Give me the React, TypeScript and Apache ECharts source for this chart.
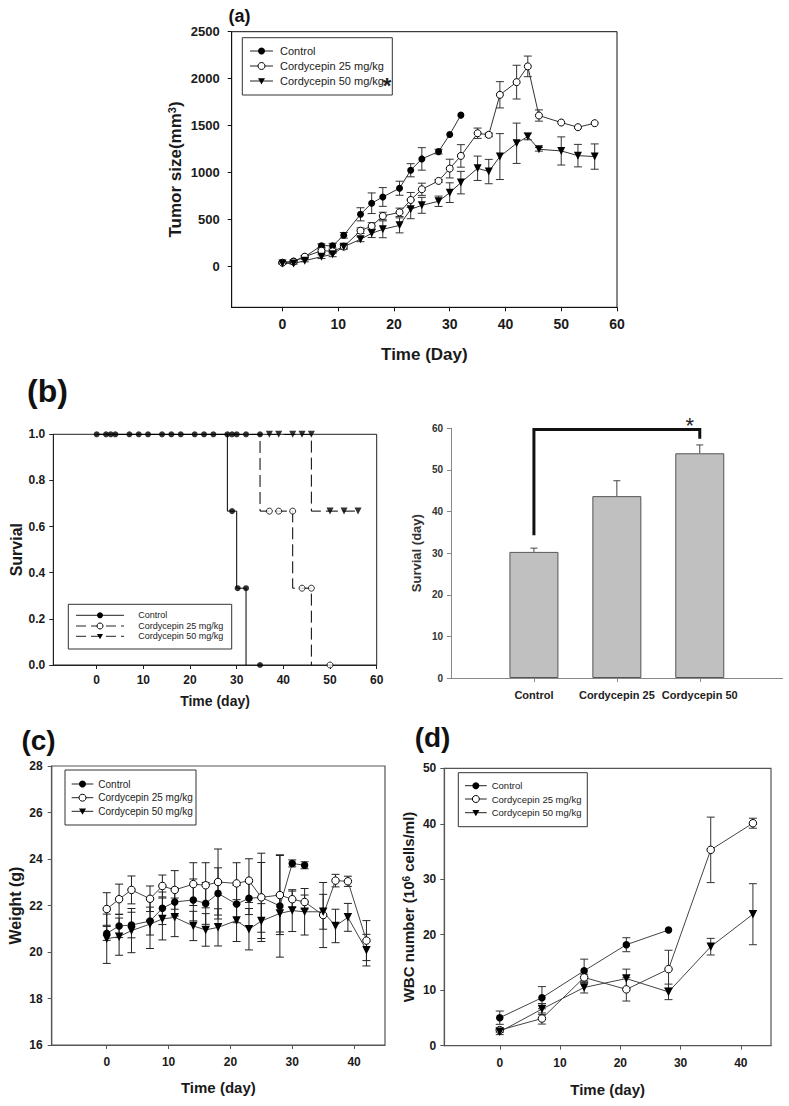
import React, { useEffect, useRef } from 'react';
import * as echarts from 'echarts';

const FONT = '"Liberation Sans", Arial, Helvetica, sans-serif';

// ---------- (a) tumor size ----------
const tumorDays = [0, 2, 4, 7, 9, 11, 14, 16, 18, 21, 23, 25, 28, 30, 32, 35, 37, 39, 42, 44, 46, 50, 53, 56];
const tumorControl = [36, 53, 100, 217, 217, 328, 552, 670, 737, 830, 1022, 1143, 1221, 1403, 1610];
const tumorControlErr = [10, 10, 15, 20, 25, 30, 70, 110, 100, 75, 70, 120, 25, 0, 0];
const tumor25 = [36, 46, 100, 164, 157, 207, 377, 427, 534, 573, 705, 819, 908, 1040, 1175, 1417, 1400, 1827, 1962, 2130, 1606, 1531, 1481, 1524];
const tumor25Err = [8, 8, 12, 20, 20, 25, 30, 35, 40, 45, 80, 65, 15, 100, 120, 55, 20, 140, 180, 110, 60, 0, 0, 0];
const tumor50 = [28, 28, 57, 100, 125, 207, 285, 349, 392, 434, 605, 648, 691, 783, 890, 1043, 1008, 1168, 1310, 1382, 1246, 1228, 1178, 1168];
const tumor50Err = [8, 8, 12, 20, 25, 25, 25, 45, 90, 80, 100, 85, 55, 105, 120, 130, 130, 245, 215, 35, 20, 150, 120, 135];
const xTicksA = [0, 10, 20, 30, 40, 50, 60];
const yTicksA = [0, 500, 1000, 1500, 2000, 2500];

// ---------- (b) survival curves ----------
const kmControlDays = [0, 28, 30, 32];
const kmControl = [1, 0.667, 0.333, 0];
const km25Days = [0, 35, 42, 46];
const km25 = [1, 0.667, 0.333, 0];
const km50Days = [0, 46, 56];
const km50 = [1, 0.667, 0.667];
const markControlDays = [0, 2, 3, 4, 7, 9, 11, 14, 16, 18, 21, 23, 25, 28, 29, 30, 32, 35, 29, 30.2, 32, 35];
const markControl = [1, 1, 1, 1, 1, 1, 1, 1, 1, 1, 1, 1, 1, 1, 1, 1, 1, 1, 0.667, 0.333, 0.333, 0];
const mark25Days = [37, 39, 42, 44, 46, 50];
const mark25 = [0.667, 0.667, 0.667, 0.333, 0.333, 0];
const mark50Days = [37, 39, 42, 44, 46, 50, 53, 56];
const mark50 = [1, 1, 1, 1, 1, 0.667, 0.667, 0.667];
const xTicksB = [0, 10, 20, 30, 40, 50, 60];
const yTicksB = [0, 0.2, 0.4, 0.6, 0.8, 1.0];

// ---------- (b) survival bars ----------
const barCategories = ['Control', 'Cordycepin 25', 'Cordycepin 50'];
const survivalMean = [30.3, 43.7, 54.0];
const survivalErr = [0.9, 3.7, 2.0];
const bracketLevels = [34.3, 59.7, 57.5]; // left leg bottom, top, right leg bottom

// ---------- (c) weight ----------
const weightDays = [0, 2, 4, 7, 9, 11, 14, 16, 18, 21, 23, 25, 28, 30, 32, 35, 37, 39, 42];
const weightControl = [20.8, 21.12, 21.16, 21.33, 21.88, 22.15, 22.24, 22.09, 22.52, 22.06, 22.31, 22.35, 21.98, 23.81, 23.73];
const weightControlErr = [0.3, 0.5, 0.55, 0.6, 0.7, 0.6, 0.9, 0.9, 1.1, 0.8, 0.7, 1.9, 2.2, 0.15, 0.15];
const weight25 = [21.85, 22.27, 22.67, 22.29, 22.84, 22.67, 22.92, 22.87, 23.01, 22.95, 23.07, 22.35, 22.45, 22.27, 22.15, 21.59, 23.07, 23.04, 20.49];
const weight25Err = [0.7, 0.65, 0.6, 0.55, 0.47, 0.83, 0.92, 0.97, 1.42, 0.89, 0.94, 1.5, 1.7, 0.35, 0.3, 1.4, 0.27, 0.22, 0.86];
const weight50 = [20.57, 20.66, 20.92, 21.2, 21.42, 21.49, 21.12, 20.95, 21.06, 21.35, 20.98, 21.33, 21.66, 21.78, 21.73, 21.73, 21.12, 21.49, 20.08];
const weight50Err = [1.06, 0.8, 0.95, 1.05, 0.9, 0.83, 0.63, 0.7, 0.8, 0.9, 0.89, 0.75, 0.8, 0.9, 1.0, 0.75, 0.72, 0.6, 0.68];
const xTicksC = [0, 10, 20, 30, 40];
const yTicksC = [16, 18, 20, 22, 24, 26, 28];

// ---------- (d) WBC ----------
const wbcDays = [0, 7, 14, 21, 28, 35, 42];
const wbcControl = [5.05, 8.65, 13.5, 18.2, 20.85];
const wbcControlErr = [1.2, 2.0, 2.1, 1.26, 0];
const wbc25 = [2.8, 4.9, 12.3, 10.15, 13.8, 35.3, 40.1];
const wbc25Err = [0.4, 1.0, 0.6, 2.1, 3.4, 5.9, 0.9];
const wbc50 = [2.5, 6.6, 10.5, 12.1, 9.7, 17.85, 23.7];
const wbc50Err = [0.5, 1.0, 1.0, 1.7, 1.4, 1.5, 5.5];
const xTicksD = [0, 10, 20, 30, 40];
const yTicksD = [0, 10, 20, 30, 40, 50];

const legendNames = ['Control', 'Cordycepin 25 mg/kg', 'Cordycepin 50 mg/kg'];

type Kind = 'filled' | 'open' | 'tri';

const plain = (v: number) => String(v);

function lineSeries(gi: number, name: string, days: number[], vals: number[], kind: Kind, size: number, lineColor = '#333') {
  return {
    type: 'line',
    name,
    xAxisIndex: gi,
    yAxisIndex: gi,
    z: 3,
    data: vals.map((v, i) => [days[i], v]),
    symbol: kind === 'tri' ? 'triangle' : 'circle',
    symbolRotate: kind === 'tri' ? 180 : 0,
    symbolSize: kind === 'tri' ? size + 1 : size,
    showAllSymbol: true,
    lineStyle: { color: lineColor, width: 1 },
    itemStyle: kind === 'open'
      ? { color: '#fff', borderColor: '#000', borderWidth: 1 }
      : { color: '#000', borderColor: '#000', borderWidth: 0 },
    emphasis: { disabled: true },
    silent: true,
  };
}

function scatterSeries(gi: number, name: string, days: number[], vals: number[], kind: Kind, size: number) {
  return {
    type: 'scatter',
    name,
    xAxisIndex: gi,
    yAxisIndex: gi,
    z: 4,
    data: vals.map((v, i) => [days[i], v]),
    symbol: kind === 'tri' ? 'triangle' : 'circle',
    symbolRotate: kind === 'tri' ? 180 : 0,
    symbolSize: kind === 'tri' ? size + 1 : size,
    itemStyle: kind === 'open'
      ? { color: '#fff', borderColor: '#000', borderWidth: 1 }
      : { color: '#000', borderColor: '#000', borderWidth: 0 },
    emphasis: { disabled: true },
    silent: true,
  };
}

function stepSeries(gi: number, name: string, days: number[], vals: number[], dash: any) {
  return {
    type: 'line',
    name,
    xAxisIndex: gi,
    yAxisIndex: gi,
    z: 2,
    step: 'end',
    showSymbol: false,
    data: vals.map((v, i) => [days[i], v]),
    lineStyle: { color: '#000', width: 1, type: dash },
    emphasis: { disabled: true },
    silent: true,
  };
}

function errSeries(gi: number, xs: any[], vals: number[], errs: number[], color: string, cap: number, upOnly = false) {
  return {
    type: 'custom',
    xAxisIndex: gi,
    yAxisIndex: gi,
    z: 1,
    silent: true,
    data: vals.map((v, i) => [xs[i], v, errs[i]]),
    encode: { x: 0, y: 1 },
    renderItem: (_p: any, api: any) => {
      const x = api.value(0);
      const y = api.value(1);
      const e = api.value(2);
      if (!e) return null;
      const top = api.coord([x, y + e]);
      const bot = api.coord([x, upOnly ? y : y - e]);
      const st = { stroke: color, lineWidth: 1 };
      const children: any[] = [
        { type: 'line', shape: { x1: top[0], y1: top[1], x2: bot[0], y2: bot[1] }, style: st },
        { type: 'line', shape: { x1: top[0] - cap, y1: top[1], x2: top[0] + cap, y2: top[1] }, style: st },
      ];
      if (!upOnly) {
        children.push({ type: 'line', shape: { x1: bot[0] - cap, y1: bot[1], x2: bot[0] + cap, y2: bot[1] }, style: st });
      }
      return { type: 'group', children };
    },
  };
}

function bracketSeries(gi: number) {
  return {
    type: 'custom',
    xAxisIndex: gi,
    yAxisIndex: gi,
    z: 5,
    silent: true,
    clip: false,
    data: [[barCategories[0], bracketLevels[0], barCategories[2], bracketLevels[2], bracketLevels[1]]],
    encode: { x: [0, 2], y: [1, 3, 4] },
    renderItem: (_p: any, api: any) => {
      const a = api.coord([api.value(0), api.value(1)]);
      const b = api.coord([api.value(0), api.value(4)]);
      const c = api.coord([api.value(2), api.value(4)]);
      const d = api.coord([api.value(2), api.value(3)]);
      return {
        type: 'group',
        children: [
          {
            type: 'polyline',
            shape: { points: [a, b, c, d] },
            style: { stroke: '#111', lineWidth: 3, fill: 'none', lineJoin: 'miter' },
          },
          {
            type: 'text',
            x: c[0] - 10,
            y: c[1] - 4,
            style: { text: '*', fontSize: 22, fontFamily: FONT, fill: '#222', align: 'center', verticalAlign: 'middle' },
          },
        ],
      };
    },
  };
}

function valueAxis(gi: number, min: number, max: number, ticks: number[], o: any) {
  return {
    gridIndex: gi,
    type: 'value',
    min,
    max,
    axisLine: { show: true, onZero: false, lineStyle: { color: o.lineColor, width: o.lineWidth } },
    axisTick: { show: true, inside: false, length: 4, customValues: ticks, lineStyle: { color: o.lineColor, width: 1 } },
    axisLabel: {
      customValues: ticks,
      fontSize: o.fontSize,
      fontWeight: 'bold',
      fontFamily: FONT,
      color: '#1a1a1a',
      margin: o.margin,
      formatter: o.formatter || plain,
    },
    splitLine: { show: false },
    name: o.name,
    nameLocation: 'middle',
    nameGap: o.nameGap,
    nameTextStyle: {
      fontSize: o.nameSize,
      fontWeight: 'bold',
      fontFamily: FONT,
      color: '#1a1a1a',
      rich: o.rich,
    },
  };
}

function legend(box: number[], rowYs: number[], lineX: number[], textX: number, fontSize: number, kinds: Kind[], dashes: any[], r: number) {
  const els: any[] = [
    {
      type: 'rect',
      shape: { x: box[0], y: box[1], width: box[2] - box[0], height: box[3] - box[1] },
      style: { fill: '#fff', stroke: '#333', lineWidth: 1 },
      z: 10,
    },
  ];
  const mx = (lineX[0] + lineX[1]) / 2;
  rowYs.forEach((y, i) => {
    els.push({
      type: 'line',
      shape: { x1: lineX[0], y1: y, x2: lineX[1], y2: y },
      style: { stroke: '#222', lineWidth: 1, lineDash: dashes[i] },
      z: 11,
    });
    const k = kinds[i];
    if (k === 'tri') {
      els.push({
        type: 'polygon',
        shape: { points: [[mx - r, y - r * 0.8], [mx + r, y - r * 0.8], [mx, y + r]] },
        style: { fill: '#000' },
        z: 12,
      });
    } else {
      els.push({
        type: 'circle',
        shape: { cx: mx, cy: y, r },
        style: k === 'open' ? { fill: '#fff', stroke: '#000', lineWidth: 1 } : { fill: '#000' },
        z: 12,
      });
    }
    els.push({
      type: 'text',
      x: textX,
      y,
      style: { text: legendNames[i], fontSize, fontFamily: FONT, fill: '#222', align: 'left', verticalAlign: 'middle' },
      z: 12,
    });
  });
  return els;
}

function panelLabel(text: string, x: number, y: number, size: number) {
  return {
    type: 'text',
    x,
    y,
    style: { text, fontSize: size, fontWeight: 'bold', fontFamily: FONT, fill: '#111', align: 'center', verticalAlign: 'middle' },
    z: 20,
  };
}

function buildOption(): any {
  const dayA = tumorDays;
  const grids = [
    { left: 231.7, top: 31.7, width: 385.3, height: 275.6, show: true, borderColor: '#111', borderWidth: 1, backgroundColor: 'transparent' },
    { left: 53.3, top: 434.3, width: 323.4, height: 230.7, show: true, borderColor: '#222', borderWidth: 1, backgroundColor: 'transparent' },
    { left: 451, top: 428.3, width: 331.7, height: 249.7, show: false },
    { left: 51.7, top: 766, width: 333.3, height: 279, show: true, borderColor: '#555', borderWidth: 1.2, backgroundColor: 'transparent' },
    { left: 444.3, top: 768.3, width: 326.7, height: 277.4, show: true, borderColor: '#555', borderWidth: 1.2, backgroundColor: 'transparent' },
  ];

  const xAxis = [
    valueAxis(0, -9.1, 60, xTicksA, { lineColor: '#111', lineWidth: 1, fontSize: 14, margin: 10, name: 'Time (Day)', nameGap: 39, nameSize: 17 }),
    valueAxis(1, -9.3, 60, xTicksB, { lineColor: '#222', lineWidth: 1, fontSize: 12, margin: 9, name: 'Time (day)', nameGap: 29, nameSize: 14 }),
    {
      gridIndex: 2,
      type: 'category',
      data: ['', ...barCategories, ''],
      boundaryGap: false,
      axisLine: { show: true, onZero: false, lineStyle: { color: '#888', width: 1 } },
      axisTick: { show: true, length: 4, interval: (i: number) => i >= 1 && i <= barCategories.length, lineStyle: { color: '#888' } },
      axisLabel: { interval: 0, fontSize: 11, fontWeight: 'bold', fontFamily: FONT, color: '#222', margin: 11 },
      splitLine: { show: false },
    },
    valueAxis(3, -8.9, 45, xTicksC, { lineColor: '#555', lineWidth: 1.2, fontSize: 12, margin: 11, name: 'Time (day)', nameGap: 35, nameSize: 15 }),
    valueAxis(4, -9.2, 45, xTicksD, { lineColor: '#555', lineWidth: 1.2, fontSize: 12, margin: 11, name: 'Time (day)', nameGap: 36, nameSize: 15 }),
  ];

  const yAxis = [
    valueAxis(0, -440, 2500, yTicksA, {
      lineColor: '#111', lineWidth: 1, fontSize: 13, margin: 12, name: 'Tumor size(mm{sup|3})', nameGap: 48, nameSize: 17,
      rich: { sup: { fontSize: 11, fontWeight: 'bold', fontFamily: FONT, color: '#1a1a1a', verticalAlign: 'top', lineHeight: 12, padding: [0, 0, 8, 0] } },
    }),
    valueAxis(1, 0, 1, yTicksB, {
      lineColor: '#222', lineWidth: 1, fontSize: 12, margin: 8, name: 'Survial', nameGap: 27, nameSize: 16,
      formatter: (v: number) => v.toFixed(1),
    }),
    {
      gridIndex: 2,
      type: 'value',
      min: 0,
      max: 60,
      interval: 10,
      axisLine: { show: true, onZero: false, lineStyle: { color: '#888', width: 1 } },
      axisTick: { show: true, length: 4, lineStyle: { color: '#888' } },
      axisLabel: { fontSize: 10, fontWeight: 'bold', fontFamily: FONT, color: '#333', margin: 8 },
      splitLine: { show: false },
      name: 'Survial (day)',
      nameLocation: 'middle',
      nameGap: 28,
      nameTextStyle: { fontSize: 13, fontWeight: 'bold', fontFamily: FONT, color: '#333' },
    },
    valueAxis(3, 16, 28, yTicksC, { lineColor: '#555', lineWidth: 1.2, fontSize: 12, margin: 9, name: 'Weight (g)', nameGap: 28, nameSize: 16 }),
    valueAxis(4, 0, 50, yTicksD, {
      lineColor: '#555', lineWidth: 1.2, fontSize: 12, margin: 8, name: 'WBC number (10{sup|6} cells/ml)', nameGap: 28, nameSize: 15,
      rich: { sup: { fontSize: 10, fontWeight: 'bold', fontFamily: FONT, color: '#1a1a1a', verticalAlign: 'top', lineHeight: 10, padding: [0, 0, 7, 0] } },
    }),
  ];

  const series: any[] = [
    // (a)
    errSeries(0, dayA, tumorControl, tumorControlErr, '#333', 4),
    errSeries(0, dayA, tumor25, tumor25Err, '#333', 4),
    errSeries(0, dayA, tumor50, tumor50Err, '#333', 4),
    lineSeries(0, legendNames[0], dayA, tumorControl, 'filled', 7),
    lineSeries(0, legendNames[1], dayA, tumor25, 'open', 7),
    lineSeries(0, legendNames[2], dayA, tumor50, 'tri', 7),
    // (b) KM
    stepSeries(1, legendNames[0], kmControlDays, kmControl, 'solid'),
    stepSeries(1, legendNames[1], km25Days, km25, [12, 5]),
    stepSeries(1, legendNames[2], km50Days, km50, [12, 5]),
    scatterSeries(1, legendNames[1], mark25Days, mark25, 'open', 6),
    scatterSeries(1, legendNames[2], mark50Days, mark50, 'tri', 6),
    scatterSeries(1, legendNames[0], markControlDays, markControl, 'filled', 6),
    // (b) bars
    {
      type: 'bar',
      xAxisIndex: 2,
      yAxisIndex: 2,
      z: 2,
      barWidth: 49,
      data: barCategories.map((c, i) => [c, survivalMean[i]]),
      itemStyle: { color: '#c0c0c0', borderColor: '#555', borderWidth: 1 },
      emphasis: { disabled: true },
      silent: true,
    },
    errSeries(2, barCategories, survivalMean, survivalErr, '#444', 3.5, true),
    bracketSeries(2),
    // (c)
    errSeries(3, weightDays, weightControl, weightControlErr, '#222', 4),
    errSeries(3, weightDays, weight25, weight25Err, '#222', 4),
    errSeries(3, weightDays, weight50, weight50Err, '#222', 4),
    lineSeries(3, legendNames[0], weightDays, weightControl, 'filled', 7.5, '#444'),
    lineSeries(3, legendNames[1], weightDays, weight25, 'open', 7.5, '#444'),
    lineSeries(3, legendNames[2], weightDays, weight50, 'tri', 7.5, '#444'),
    // (d)
    errSeries(4, wbcDays, wbcControl, wbcControlErr, '#333', 4),
    errSeries(4, wbcDays, wbc25, wbc25Err, '#333', 4),
    errSeries(4, wbcDays, wbc50, wbc50Err, '#333', 4),
    lineSeries(4, legendNames[0], wbcDays, wbcControl, 'filled', 7.5, '#444'),
    lineSeries(4, legendNames[1], wbcDays, wbc25, 'open', 7.5, '#444'),
    lineSeries(4, legendNames[2], wbcDays, wbc50, 'tri', 7.5, '#444'),
  ];

  const kinds: Kind[] = ['filled', 'open', 'tri'];
  const graphicEls: any[] = [
    panelLabel('(a)', 239.5, 16, 18),
    panelLabel('(b)', 47.5, 391, 32),
    panelLabel('(c)', 38.5, 740, 28),
    panelLabel('(d)', 432.5, 737, 28),
    ...legend([242.3, 37.7, 392.3, 95], [51, 66, 81], [250, 273], 280, 11, kinds, [null, null, null], 3.5),
    { type: 'text', x: 387, y: 85, style: { text: '*', fontSize: 22, fontWeight: 'bold', fontFamily: FONT, fill: '#222', align: 'center', verticalAlign: 'middle' }, z: 13 },
    ...legend([68.3, 604.3, 231.7, 649], [615.3, 626, 636.3], [76, 124], 138.3, 9, kinds, [null, [10, 5], [10, 5]], 3),
    ...legend([65, 770, 196, 825], [784, 797.7, 811.3], [71.7, 93.3], 98.3, 10, kinds, [null, null, null], 3.5),
    ...legend([458.3, 772.7, 587.3, 826.7], [785.7, 799, 812.7], [465, 486.7], 491.7, 9.5, kinds, [null, null, null], 3.5),
  ];

  return {
    animation: false,
    backgroundColor: '#fff',
    grid: grids,
    xAxis,
    yAxis,
    series,
    graphic: { elements: graphicEls },
  };
}

export default function App() {
  const ref = useRef<HTMLDivElement>(null);
  useEffect(() => {
    document.body.style.margin = '0';
    document.body.style.overflow = 'hidden';
    const chart = echarts.init(ref.current as HTMLDivElement, undefined, { renderer: 'svg' });
    chart.setOption(buildOption());
    return () => chart.dispose();
  }, []);
  return (
    <div
      ref={ref}
      style={{ position: 'absolute', left: 0, top: 0, width: 789, height: 1106, background: '#fff' }}
    />
  );
}
